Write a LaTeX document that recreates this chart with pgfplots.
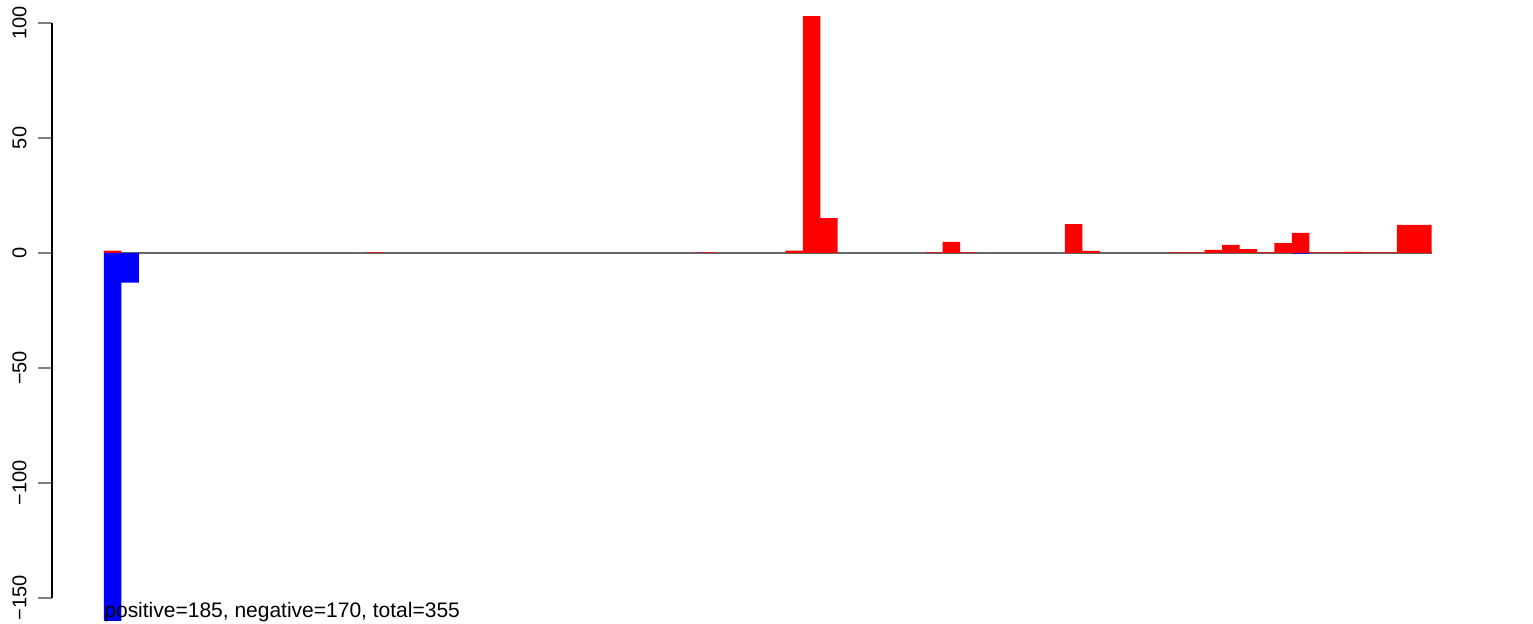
\documentclass[border=0pt]{standalone}
\usepackage{pgfplots}
\pgfplotsset{compat=1.18}
\usepackage{fontspec}
\setmainfont{Liberation Sans}
\begin{document}
\begin{tikzpicture}
\begin{axis}[
  x=8.735pt, y=1.15pt,
  xmin=-2.977, xmax=81.8,
  ymin=-150, ymax=100,
  clip=false,
  axis x line=none,
  axis y line*=left,
  xtick=\empty,
  ytick={-150,-100,-50,0,50,100},
  yticklabels={−150,−100,−50,0,50,100},
  ytick pos=left,
  ytick align=outside,
  major tick length=7pt,
  yticklabel shift=5.5pt,
  ytick style={line width=0.75pt},
  y axis line style={black, line width=0.75pt},
  yticklabel style={rotate=90, anchor=south, inner sep=0pt, font=\fontsize{10}{12}\selectfont},
]
\addplot[gray!80!black, line width=0.7pt, forget plot] coordinates {(0,0) (76,0)};
\addplot[ybar, bar width=1, bar shift=0, fill=red, draw=none] coordinates {
(0.5,1.0) (15.5,0.3) (34.5,0.3) (39.5,1.0) (40.5,103) (41.5,15.2)
(47.5,0.3) (48.5,4.8) (49.5,0.3) (55.5,12.6) (56.5,0.9)
(61.5,0.3) (62.5,0.3) (63.5,1.3) (64.5,3.5) (65.5,1.7) (66.5,0.3)
(67.5,4.3) (68.5,8.7) (69.5,0.3) (70.5,0.3) (71.5,0.5) (72.5,0.3)
(73.5,0.3) (74.5,12.2) (75.5,12.2)
};
\addplot[ybar, bar width=1, bar shift=0, fill=blue, draw=none] coordinates {
(0.5,-160) (1.5,-12.9) (68.5,-0.3)
};
\node[anchor=base west, inner sep=0pt, font=\fontsize{10.5}{12}\selectfont] at (axis cs:0,-158.3) {positive=185, negative=170, total=355};
\coordinate (bbsw) at (axis cs:-5.953,-161.3);
\coordinate (bbne) at (axis cs:81.8,110.0);
\end{axis}
\pgfresetboundingbox
\path[use as bounding box] (bbsw) rectangle (bbne);
\end{tikzpicture}
\end{document}
